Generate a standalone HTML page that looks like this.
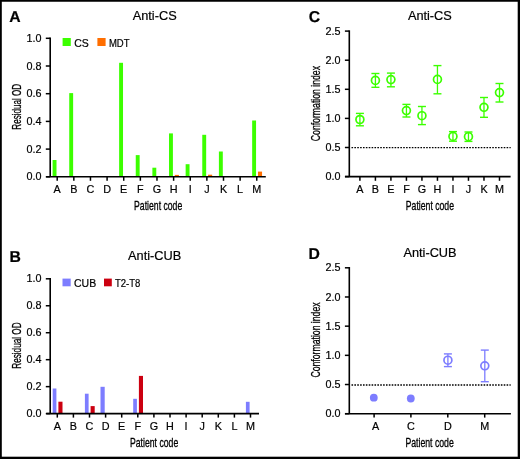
<!DOCTYPE html>
<html><head><meta charset="utf-8"><style>
html,body{margin:0;padding:0;background:#fff;width:520px;height:459px;overflow:hidden;}
svg{display:block;will-change:transform;}
text{font-family:"Liberation Sans",sans-serif;fill:#000;stroke:#000;stroke-width:0.2px;}
.c{stroke-width:0.3px;}
</style></head><body>
<svg width="520" height="459" viewBox="0 0 520 459">
<rect x="0" y="0" width="520" height="459" fill="#fff"/>
<text x="9.2" y="21.9" font-size="15.75" text-anchor="start" font-weight="bold" text-rendering="geometricPrecision">A</text>
<text x="154.7" y="19.9" font-size="12.75" text-anchor="middle" font-weight="normal" >Anti-CS</text>
<rect x="52.6" y="160" width="3.9" height="16.8" fill="#3cff00"/>
<rect x="69.23" y="93.1" width="3.9" height="83.7" fill="#3cff00"/>
<rect x="119.12" y="62.8" width="3.9" height="114" fill="#3cff00"/>
<rect x="135.75" y="155.1" width="3.9" height="21.7" fill="#3cff00"/>
<rect x="152.38" y="167.7" width="3.9" height="9.1" fill="#3cff00"/>
<rect x="169.01" y="133.4" width="3.9" height="43.4" fill="#3cff00"/>
<rect x="185.64" y="164.2" width="3.9" height="12.6" fill="#3cff00"/>
<rect x="202.27" y="134.8" width="3.9" height="42" fill="#3cff00"/>
<rect x="218.9" y="151.5" width="3.9" height="25.3" fill="#3cff00"/>
<rect x="252.16" y="120.5" width="3.9" height="56.3" fill="#3cff00"/>
<rect x="174.81" y="174.9" width="4.1" height="1.9" fill="#ff6e00"/>
<rect x="208.07" y="174.7" width="4.1" height="2.1" fill="#ff6e00"/>
<rect x="257.96" y="171.6" width="4.1" height="5.2" fill="#ff6e00"/>
<line x1="50.2" y1="37.55" x2="50.2" y2="176.8" stroke="#000" stroke-width="1.6" />
<line x1="45.8" y1="38.3" x2="50.2" y2="38.3" stroke="#000" stroke-width="1.5" />
<text x="41.4" y="41.9" font-size="10.8" text-anchor="end" font-weight="normal" >1.0</text>
<line x1="45.8" y1="66" x2="50.2" y2="66" stroke="#000" stroke-width="1.5" />
<text x="41.4" y="69.6" font-size="10.8" text-anchor="end" font-weight="normal" >0.8</text>
<line x1="45.8" y1="93.7" x2="50.2" y2="93.7" stroke="#000" stroke-width="1.5" />
<text x="41.4" y="97.3" font-size="10.8" text-anchor="end" font-weight="normal" >0.6</text>
<line x1="45.8" y1="121.4" x2="50.2" y2="121.4" stroke="#000" stroke-width="1.5" />
<text x="41.4" y="125" font-size="10.8" text-anchor="end" font-weight="normal" >0.4</text>
<line x1="45.8" y1="149.1" x2="50.2" y2="149.1" stroke="#000" stroke-width="1.5" />
<text x="41.4" y="152.7" font-size="10.8" text-anchor="end" font-weight="normal" >0.2</text>
<line x1="45.8" y1="176.8" x2="50.2" y2="176.8" stroke="#000" stroke-width="1.5" />
<text x="41.4" y="180.4" font-size="10.8" text-anchor="end" font-weight="normal" >0.0</text>
<line x1="46.2" y1="176.8" x2="265.8" y2="176.8" stroke="#000" stroke-width="1.6" />
<line x1="57.2" y1="176.8" x2="57.2" y2="180.8" stroke="#000" stroke-width="1.5" />
<text x="57.2" y="193.2" font-size="10.8" text-anchor="middle" font-weight="normal" >A</text>
<line x1="73.83" y1="176.8" x2="73.83" y2="180.8" stroke="#000" stroke-width="1.5" />
<text x="73.83" y="193.2" font-size="10.8" text-anchor="middle" font-weight="normal" >B</text>
<line x1="90.46" y1="176.8" x2="90.46" y2="180.8" stroke="#000" stroke-width="1.5" />
<text x="90.46" y="193.2" font-size="10.8" text-anchor="middle" font-weight="normal" >C</text>
<line x1="107.09" y1="176.8" x2="107.09" y2="180.8" stroke="#000" stroke-width="1.5" />
<text x="107.09" y="193.2" font-size="10.8" text-anchor="middle" font-weight="normal" >D</text>
<line x1="123.72" y1="176.8" x2="123.72" y2="180.8" stroke="#000" stroke-width="1.5" />
<text x="123.72" y="193.2" font-size="10.8" text-anchor="middle" font-weight="normal" >E</text>
<line x1="140.35" y1="176.8" x2="140.35" y2="180.8" stroke="#000" stroke-width="1.5" />
<text x="140.35" y="193.2" font-size="10.8" text-anchor="middle" font-weight="normal" >F</text>
<line x1="156.98" y1="176.8" x2="156.98" y2="180.8" stroke="#000" stroke-width="1.5" />
<text x="156.98" y="193.2" font-size="10.8" text-anchor="middle" font-weight="normal" >G</text>
<line x1="173.61" y1="176.8" x2="173.61" y2="180.8" stroke="#000" stroke-width="1.5" />
<text x="173.61" y="193.2" font-size="10.8" text-anchor="middle" font-weight="normal" >H</text>
<line x1="190.24" y1="176.8" x2="190.24" y2="180.8" stroke="#000" stroke-width="1.5" />
<text x="190.24" y="193.2" font-size="10.8" text-anchor="middle" font-weight="normal" >I</text>
<line x1="206.87" y1="176.8" x2="206.87" y2="180.8" stroke="#000" stroke-width="1.5" />
<text x="206.87" y="193.2" font-size="10.8" text-anchor="middle" font-weight="normal" >J</text>
<line x1="223.5" y1="176.8" x2="223.5" y2="180.8" stroke="#000" stroke-width="1.5" />
<text x="223.5" y="193.2" font-size="10.8" text-anchor="middle" font-weight="normal" >K</text>
<line x1="240.13" y1="176.8" x2="240.13" y2="180.8" stroke="#000" stroke-width="1.5" />
<text x="240.13" y="193.2" font-size="10.8" text-anchor="middle" font-weight="normal" >L</text>
<line x1="256.76" y1="176.8" x2="256.76" y2="180.8" stroke="#000" stroke-width="1.5" />
<text x="256.76" y="193.2" font-size="10.8" text-anchor="middle" font-weight="normal" >M</text>
<rect x="62.6" y="38" width="8.2" height="8" fill="#3cff00"/>
<text x="74.2" y="46.5" font-size="10.5" text-anchor="start" font-weight="normal" >CS</text>
<rect x="97.4" y="38" width="8.2" height="8" fill="#ff6e00"/>
<text x="108.9" y="46.5" font-size="10.5" text-anchor="start" font-weight="normal" textLength="20.6" lengthAdjust="spacingAndGlyphs">MDT</text>
<text class="c" transform="translate(20.5,106.8) rotate(-90)" x="0" y="0" font-size="12.6" text-anchor="middle" textLength="45.8" lengthAdjust="spacingAndGlyphs">Residual OD</text>
<text class="c" x="158.15" y="209.6" font-size="11.9" text-anchor="middle" textLength="48.1" lengthAdjust="spacingAndGlyphs">Patient code</text>
<text x="9.4" y="261.9" font-size="15.75" text-anchor="start" font-weight="bold" text-rendering="geometricPrecision">B</text>
<text x="154.65" y="259.7" font-size="12.75" text-anchor="middle" font-weight="normal" >Anti-CUB</text>
<rect x="52.7" y="388.5" width="3.7" height="25.1" fill="#7d7dff"/>
<rect x="84.9" y="393.7" width="3.7" height="19.9" fill="#7d7dff"/>
<rect x="100.5" y="386.8" width="4.2" height="26.8" fill="#7d7dff"/>
<rect x="133.2" y="398.8" width="3.7" height="14.8" fill="#7d7dff"/>
<rect x="245.9" y="401.8" width="3.7" height="11.8" fill="#7d7dff"/>
<rect x="58.4" y="401.7" width="4.1" height="11.9" fill="#cc0010"/>
<rect x="90.6" y="406.1" width="4.1" height="7.5" fill="#cc0010"/>
<rect x="138.9" y="375.9" width="4.1" height="37.7" fill="#cc0010"/>
<line x1="50.2" y1="278.05" x2="50.2" y2="413.6" stroke="#000" stroke-width="1.6" />
<line x1="45.8" y1="278.8" x2="50.2" y2="278.8" stroke="#000" stroke-width="1.5" />
<text x="41.6" y="282.4" font-size="10.8" text-anchor="end" font-weight="normal" >1.0</text>
<line x1="45.8" y1="305.76" x2="50.2" y2="305.76" stroke="#000" stroke-width="1.5" />
<text x="41.6" y="309.36" font-size="10.8" text-anchor="end" font-weight="normal" >0.8</text>
<line x1="45.8" y1="332.72" x2="50.2" y2="332.72" stroke="#000" stroke-width="1.5" />
<text x="41.6" y="336.32" font-size="10.8" text-anchor="end" font-weight="normal" >0.6</text>
<line x1="45.8" y1="359.68" x2="50.2" y2="359.68" stroke="#000" stroke-width="1.5" />
<text x="41.6" y="363.28" font-size="10.8" text-anchor="end" font-weight="normal" >0.4</text>
<line x1="45.8" y1="386.64" x2="50.2" y2="386.64" stroke="#000" stroke-width="1.5" />
<text x="41.6" y="390.24" font-size="10.8" text-anchor="end" font-weight="normal" >0.2</text>
<line x1="45.8" y1="413.6" x2="50.2" y2="413.6" stroke="#000" stroke-width="1.5" />
<text x="41.6" y="417.2" font-size="10.8" text-anchor="end" font-weight="normal" >0.0</text>
<line x1="46.3" y1="413.6" x2="259" y2="413.6" stroke="#000" stroke-width="1.6" />
<line x1="57.3" y1="413.6" x2="57.3" y2="417.6" stroke="#000" stroke-width="1.5" />
<text x="57.3" y="429.8" font-size="10.8" text-anchor="middle" font-weight="normal" >A</text>
<line x1="73.4" y1="413.6" x2="73.4" y2="417.6" stroke="#000" stroke-width="1.5" />
<text x="73.4" y="429.8" font-size="10.8" text-anchor="middle" font-weight="normal" >B</text>
<line x1="89.5" y1="413.6" x2="89.5" y2="417.6" stroke="#000" stroke-width="1.5" />
<text x="89.5" y="429.8" font-size="10.8" text-anchor="middle" font-weight="normal" >C</text>
<line x1="105.6" y1="413.6" x2="105.6" y2="417.6" stroke="#000" stroke-width="1.5" />
<text x="105.6" y="429.8" font-size="10.8" text-anchor="middle" font-weight="normal" >D</text>
<line x1="121.7" y1="413.6" x2="121.7" y2="417.6" stroke="#000" stroke-width="1.5" />
<text x="121.7" y="429.8" font-size="10.8" text-anchor="middle" font-weight="normal" >E</text>
<line x1="137.8" y1="413.6" x2="137.8" y2="417.6" stroke="#000" stroke-width="1.5" />
<text x="137.8" y="429.8" font-size="10.8" text-anchor="middle" font-weight="normal" >F</text>
<line x1="153.9" y1="413.6" x2="153.9" y2="417.6" stroke="#000" stroke-width="1.5" />
<text x="153.9" y="429.8" font-size="10.8" text-anchor="middle" font-weight="normal" >G</text>
<line x1="170" y1="413.6" x2="170" y2="417.6" stroke="#000" stroke-width="1.5" />
<text x="170" y="429.8" font-size="10.8" text-anchor="middle" font-weight="normal" >H</text>
<line x1="186.1" y1="413.6" x2="186.1" y2="417.6" stroke="#000" stroke-width="1.5" />
<text x="186.1" y="429.8" font-size="10.8" text-anchor="middle" font-weight="normal" >I</text>
<line x1="202.2" y1="413.6" x2="202.2" y2="417.6" stroke="#000" stroke-width="1.5" />
<text x="202.2" y="429.8" font-size="10.8" text-anchor="middle" font-weight="normal" >J</text>
<line x1="218.3" y1="413.6" x2="218.3" y2="417.6" stroke="#000" stroke-width="1.5" />
<text x="218.3" y="429.8" font-size="10.8" text-anchor="middle" font-weight="normal" >K</text>
<line x1="234.4" y1="413.6" x2="234.4" y2="417.6" stroke="#000" stroke-width="1.5" />
<text x="234.4" y="429.8" font-size="10.8" text-anchor="middle" font-weight="normal" >L</text>
<line x1="250.5" y1="413.6" x2="250.5" y2="417.6" stroke="#000" stroke-width="1.5" />
<text x="250.5" y="429.8" font-size="10.8" text-anchor="middle" font-weight="normal" >M</text>
<rect x="62.5" y="278.6" width="8.2" height="7.7" fill="#7d7dff"/>
<text x="74" y="287.2" font-size="10.5" text-anchor="start" font-weight="normal" >CUB</text>
<rect x="104" y="278.6" width="7.8" height="7.7" fill="#cc0010"/>
<text x="114.9" y="287.2" font-size="10.5" text-anchor="start" font-weight="normal" textLength="25.4" lengthAdjust="spacingAndGlyphs">T2-T8</text>
<text class="c" transform="translate(21.1,345.6) rotate(-90)" x="0" y="0" font-size="12.6" text-anchor="middle" textLength="46.3" lengthAdjust="spacingAndGlyphs">Residual OD</text>
<text class="c" x="154.1" y="446.8" font-size="11.9" text-anchor="middle" textLength="48.2" lengthAdjust="spacingAndGlyphs">Patient code</text>
<text x="308.8" y="22.2" font-size="15.75" text-anchor="start" font-weight="bold" text-rendering="geometricPrecision">C</text>
<text x="429.85" y="19.9" font-size="12.75" text-anchor="middle" font-weight="normal" >Anti-CS</text>
<line x1="349.3" y1="30.35" x2="349.3" y2="176.6" stroke="#000" stroke-width="1.6" />
<line x1="344.9" y1="31.1" x2="349.3" y2="31.1" stroke="#000" stroke-width="1.5" />
<text x="340.4" y="34.7" font-size="10.8" text-anchor="end" font-weight="normal" >2.5</text>
<line x1="344.9" y1="60.2" x2="349.3" y2="60.2" stroke="#000" stroke-width="1.5" />
<text x="340.4" y="63.8" font-size="10.8" text-anchor="end" font-weight="normal" >2.0</text>
<line x1="344.9" y1="89.3" x2="349.3" y2="89.3" stroke="#000" stroke-width="1.5" />
<text x="340.4" y="92.9" font-size="10.8" text-anchor="end" font-weight="normal" >1.5</text>
<line x1="344.9" y1="118.4" x2="349.3" y2="118.4" stroke="#000" stroke-width="1.5" />
<text x="340.4" y="122" font-size="10.8" text-anchor="end" font-weight="normal" >1.0</text>
<line x1="344.9" y1="147.5" x2="349.3" y2="147.5" stroke="#000" stroke-width="1.5" />
<text x="340.4" y="151.1" font-size="10.8" text-anchor="end" font-weight="normal" >0.5</text>
<line x1="344.9" y1="176.6" x2="349.3" y2="176.6" stroke="#000" stroke-width="1.5" />
<text x="340.4" y="180.2" font-size="10.8" text-anchor="end" font-weight="normal" >0.0</text>
<line x1="345" y1="176.6" x2="510.6" y2="176.6" stroke="#000" stroke-width="1.6" />
<line x1="359.9" y1="176.6" x2="359.9" y2="180.8" stroke="#000" stroke-width="1.5" />
<text x="359.9" y="193.2" font-size="10.8" text-anchor="middle" font-weight="normal" >A</text>
<line x1="375.41" y1="176.6" x2="375.41" y2="180.8" stroke="#000" stroke-width="1.5" />
<text x="375.41" y="193.2" font-size="10.8" text-anchor="middle" font-weight="normal" >B</text>
<line x1="390.92" y1="176.6" x2="390.92" y2="180.8" stroke="#000" stroke-width="1.5" />
<text x="390.92" y="193.2" font-size="10.8" text-anchor="middle" font-weight="normal" >E</text>
<line x1="406.43" y1="176.6" x2="406.43" y2="180.8" stroke="#000" stroke-width="1.5" />
<text x="406.43" y="193.2" font-size="10.8" text-anchor="middle" font-weight="normal" >F</text>
<line x1="421.94" y1="176.6" x2="421.94" y2="180.8" stroke="#000" stroke-width="1.5" />
<text x="421.94" y="193.2" font-size="10.8" text-anchor="middle" font-weight="normal" >G</text>
<line x1="437.45" y1="176.6" x2="437.45" y2="180.8" stroke="#000" stroke-width="1.5" />
<text x="437.45" y="193.2" font-size="10.8" text-anchor="middle" font-weight="normal" >H</text>
<line x1="452.96" y1="176.6" x2="452.96" y2="180.8" stroke="#000" stroke-width="1.5" />
<text x="452.96" y="193.2" font-size="10.8" text-anchor="middle" font-weight="normal" >I</text>
<line x1="468.47" y1="176.6" x2="468.47" y2="180.8" stroke="#000" stroke-width="1.5" />
<text x="468.47" y="193.2" font-size="10.8" text-anchor="middle" font-weight="normal" >J</text>
<line x1="483.98" y1="176.6" x2="483.98" y2="180.8" stroke="#000" stroke-width="1.5" />
<text x="483.98" y="193.2" font-size="10.8" text-anchor="middle" font-weight="normal" >K</text>
<line x1="499.49" y1="176.6" x2="499.49" y2="180.8" stroke="#000" stroke-width="1.5" />
<text x="499.49" y="193.2" font-size="10.8" text-anchor="middle" font-weight="normal" >M</text>
<line x1="351.5" y1="147.6" x2="510.7" y2="147.6" stroke="#000" stroke-width="1.35" stroke-dasharray="1.6 1.272"/>
<line x1="359.9" y1="113.4" x2="359.9" y2="125.8" stroke="#3cff00" stroke-width="1.3" />
<line x1="355.9" y1="113.4" x2="363.9" y2="113.4" stroke="#3cff00" stroke-width="1.4" />
<line x1="355.9" y1="125.8" x2="363.9" y2="125.8" stroke="#3cff00" stroke-width="1.4" />
<circle cx="359.9" cy="119.5" r="3.95" fill="none" stroke="#3cff00" stroke-width="1.7"/>
<line x1="375.41" y1="73.5" x2="375.41" y2="87.3" stroke="#3cff00" stroke-width="1.3" />
<line x1="371.41" y1="73.5" x2="379.41" y2="73.5" stroke="#3cff00" stroke-width="1.4" />
<line x1="371.41" y1="87.3" x2="379.41" y2="87.3" stroke="#3cff00" stroke-width="1.4" />
<circle cx="375.41" cy="80.4" r="3.95" fill="none" stroke="#3cff00" stroke-width="1.7"/>
<line x1="390.92" y1="73.1" x2="390.92" y2="86.8" stroke="#3cff00" stroke-width="1.3" />
<line x1="386.92" y1="73.1" x2="394.92" y2="73.1" stroke="#3cff00" stroke-width="1.4" />
<line x1="386.92" y1="86.8" x2="394.92" y2="86.8" stroke="#3cff00" stroke-width="1.4" />
<circle cx="390.92" cy="79.6" r="3.95" fill="none" stroke="#3cff00" stroke-width="1.7"/>
<line x1="406.43" y1="104.4" x2="406.43" y2="117" stroke="#3cff00" stroke-width="1.3" />
<line x1="402.43" y1="104.4" x2="410.43" y2="104.4" stroke="#3cff00" stroke-width="1.4" />
<line x1="402.43" y1="117" x2="410.43" y2="117" stroke="#3cff00" stroke-width="1.4" />
<circle cx="406.43" cy="110.6" r="3.95" fill="none" stroke="#3cff00" stroke-width="1.7"/>
<line x1="421.94" y1="106.5" x2="421.94" y2="124.6" stroke="#3cff00" stroke-width="1.3" />
<line x1="417.94" y1="106.5" x2="425.94" y2="106.5" stroke="#3cff00" stroke-width="1.4" />
<line x1="417.94" y1="124.6" x2="425.94" y2="124.6" stroke="#3cff00" stroke-width="1.4" />
<circle cx="421.94" cy="115.7" r="3.95" fill="none" stroke="#3cff00" stroke-width="1.7"/>
<line x1="437.45" y1="65.6" x2="437.45" y2="93.8" stroke="#3cff00" stroke-width="1.3" />
<line x1="433.45" y1="65.6" x2="441.45" y2="65.6" stroke="#3cff00" stroke-width="1.4" />
<line x1="433.45" y1="93.8" x2="441.45" y2="93.8" stroke="#3cff00" stroke-width="1.4" />
<circle cx="437.45" cy="79.4" r="3.95" fill="none" stroke="#3cff00" stroke-width="1.7"/>
<line x1="452.96" y1="131.6" x2="452.96" y2="141.2" stroke="#3cff00" stroke-width="1.3" />
<line x1="448.96" y1="131.6" x2="456.96" y2="131.6" stroke="#3cff00" stroke-width="1.4" />
<line x1="448.96" y1="141.2" x2="456.96" y2="141.2" stroke="#3cff00" stroke-width="1.4" />
<circle cx="452.96" cy="136.4" r="3.95" fill="none" stroke="#3cff00" stroke-width="1.7"/>
<line x1="468.47" y1="132" x2="468.47" y2="141.4" stroke="#3cff00" stroke-width="1.3" />
<line x1="464.47" y1="132" x2="472.47" y2="132" stroke="#3cff00" stroke-width="1.4" />
<line x1="464.47" y1="141.4" x2="472.47" y2="141.4" stroke="#3cff00" stroke-width="1.4" />
<circle cx="468.47" cy="136.7" r="3.95" fill="none" stroke="#3cff00" stroke-width="1.7"/>
<line x1="483.98" y1="97.5" x2="483.98" y2="117.3" stroke="#3cff00" stroke-width="1.3" />
<line x1="479.98" y1="97.5" x2="487.98" y2="97.5" stroke="#3cff00" stroke-width="1.4" />
<line x1="479.98" y1="117.3" x2="487.98" y2="117.3" stroke="#3cff00" stroke-width="1.4" />
<circle cx="483.98" cy="107.3" r="3.95" fill="none" stroke="#3cff00" stroke-width="1.7"/>
<line x1="499.49" y1="83.5" x2="499.49" y2="102" stroke="#3cff00" stroke-width="1.3" />
<line x1="495.49" y1="83.5" x2="503.49" y2="83.5" stroke="#3cff00" stroke-width="1.4" />
<line x1="495.49" y1="102" x2="503.49" y2="102" stroke="#3cff00" stroke-width="1.4" />
<circle cx="499.49" cy="92.6" r="3.95" fill="none" stroke="#3cff00" stroke-width="1.7"/>
<text class="c" transform="translate(319.7,103.6) rotate(-90)" x="0" y="0" font-size="12.4" text-anchor="middle" textLength="75.2" lengthAdjust="spacingAndGlyphs">Conformation index</text>
<text class="c" x="429.9" y="209.7" font-size="11.9" text-anchor="middle" textLength="48.2" lengthAdjust="spacingAndGlyphs">Patient code</text>
<text x="308.4" y="258.7" font-size="15.75" text-anchor="start" font-weight="bold" text-rendering="geometricPrecision">D</text>
<text x="430" y="256.5" font-size="12.75" text-anchor="middle" font-weight="normal" >Anti-CUB</text>
<line x1="349.3" y1="267.05" x2="349.3" y2="413.7" stroke="#000" stroke-width="1.6" />
<line x1="344.9" y1="267.8" x2="349.3" y2="267.8" stroke="#000" stroke-width="1.5" />
<text x="340.4" y="271.4" font-size="10.8" text-anchor="end" font-weight="normal" >2.5</text>
<line x1="344.9" y1="296.98" x2="349.3" y2="296.98" stroke="#000" stroke-width="1.5" />
<text x="340.4" y="300.58" font-size="10.8" text-anchor="end" font-weight="normal" >2.0</text>
<line x1="344.9" y1="326.16" x2="349.3" y2="326.16" stroke="#000" stroke-width="1.5" />
<text x="340.4" y="329.76" font-size="10.8" text-anchor="end" font-weight="normal" >1.5</text>
<line x1="344.9" y1="355.34" x2="349.3" y2="355.34" stroke="#000" stroke-width="1.5" />
<text x="340.4" y="358.94" font-size="10.8" text-anchor="end" font-weight="normal" >1.0</text>
<line x1="344.9" y1="384.52" x2="349.3" y2="384.52" stroke="#000" stroke-width="1.5" />
<text x="340.4" y="388.12" font-size="10.8" text-anchor="end" font-weight="normal" >0.5</text>
<line x1="344.9" y1="413.7" x2="349.3" y2="413.7" stroke="#000" stroke-width="1.5" />
<text x="340.4" y="417.3" font-size="10.8" text-anchor="end" font-weight="normal" >0.0</text>
<line x1="345" y1="413.7" x2="510.9" y2="413.7" stroke="#000" stroke-width="1.6" />
<line x1="374.1" y1="413.7" x2="374.1" y2="417.6" stroke="#000" stroke-width="1.5" />
<text x="375.5" y="430" font-size="10.8" text-anchor="middle" font-weight="normal" >A</text>
<line x1="410.9" y1="413.7" x2="410.9" y2="417.6" stroke="#000" stroke-width="1.5" />
<text x="410.9" y="430" font-size="10.8" text-anchor="middle" font-weight="normal" >C</text>
<line x1="447.8" y1="413.7" x2="447.8" y2="417.6" stroke="#000" stroke-width="1.5" />
<text x="447.8" y="430" font-size="10.8" text-anchor="middle" font-weight="normal" >D</text>
<line x1="484.7" y1="413.7" x2="484.7" y2="417.6" stroke="#000" stroke-width="1.5" />
<text x="484.7" y="430" font-size="10.8" text-anchor="middle" font-weight="normal" >M</text>
<line x1="351.5" y1="385" x2="510.7" y2="385" stroke="#000" stroke-width="1.35" stroke-dasharray="1.6 1.272"/>
<circle cx="373.8" cy="397.7" r="3.9" fill="#7d7dff"/>
<circle cx="410.8" cy="398.5" r="3.9" fill="#7d7dff"/>
<line x1="447.9" y1="353.9" x2="447.9" y2="366.6" stroke="#7d7dff" stroke-width="1.3" />
<line x1="443.9" y1="353.9" x2="451.9" y2="353.9" stroke="#7d7dff" stroke-width="1.4" />
<line x1="443.9" y1="366.6" x2="451.9" y2="366.6" stroke="#7d7dff" stroke-width="1.4" />
<circle cx="447.9" cy="360.2" r="3.95" fill="none" stroke="#7d7dff" stroke-width="1.7"/>
<line x1="484.8" y1="350.1" x2="484.8" y2="381.7" stroke="#7d7dff" stroke-width="1.3" />
<line x1="480.8" y1="350.1" x2="488.8" y2="350.1" stroke="#7d7dff" stroke-width="1.4" />
<line x1="480.8" y1="381.7" x2="488.8" y2="381.7" stroke="#7d7dff" stroke-width="1.4" />
<circle cx="484.8" cy="365.8" r="3.95" fill="none" stroke="#7d7dff" stroke-width="1.7"/>
<text class="c" transform="translate(319.7,340) rotate(-90)" x="0" y="0" font-size="12.4" text-anchor="middle" textLength="75.2" lengthAdjust="spacingAndGlyphs">Conformation index</text>
<text class="c" x="429.6" y="446.7" font-size="11.9" text-anchor="middle" textLength="48.4" lengthAdjust="spacingAndGlyphs">Patient code</text>
<rect x="0" y="0" width="520" height="1.75" fill="#000"/>
<rect x="0" y="0" width="1.8" height="459" fill="#000"/>
<rect x="517.7" y="0" width="2.3" height="459" fill="#000"/>
<rect x="0" y="456.7" width="520" height="2.3" fill="#000"/>
</svg></body></html>
